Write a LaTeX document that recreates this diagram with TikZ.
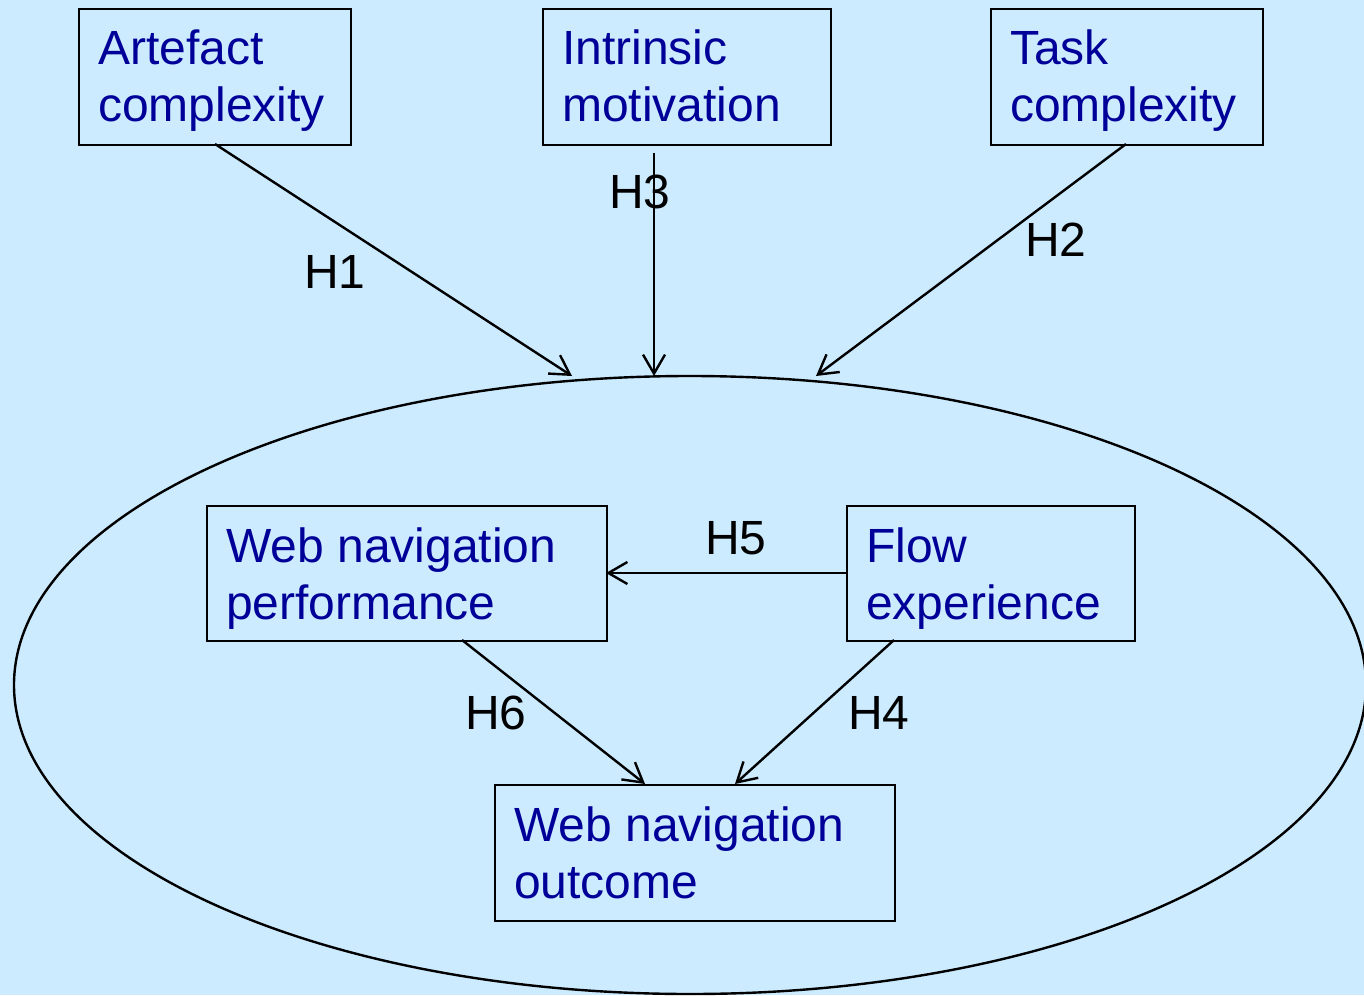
\documentclass[tikz,border=0pt]{standalone}
\usepackage{fontspec}
\setmainfont{Liberation Sans}
\usetikzlibrary{arrows.meta}
\definecolor{bgblue}{HTML}{CCEBFF}
\definecolor{txtblue}{HTML}{000099}
\tikzset{
  box/.style={draw=black, line width=2.4pt, anchor=north west, inner sep=0pt},
  boxtext/.style={anchor=base west, inner sep=0pt, align=left, text=txtblue,
    font=\fontsize{48}{57}\selectfont},
  hlabel/.style={inner sep=0pt, text=black, font=\fontsize{48}{57}\selectfont},
  link/.style={line width=2.4pt, -{Straight Barb[length=19pt,width=22pt,line width=2.4pt]}},
}
\begin{document}
\begin{tikzpicture}[x=1pt,y=-1pt]
  \fill[bgblue] (0,0) rectangle (1364,995);
  \useasboundingbox (0,0) rectangle (1364,995);
  \clip (0,0) rectangle (1364,995);

  % enclosing ellipse
  \draw[line width=2.4pt] (690,685) ellipse [x radius=676, y radius=309];

  % factor boxes (text anchored on the baseline of its second line)
  \node[box, minimum width=272, minimum height=136] (art) at (78,8) {};
  \node[boxtext] at (98,122) {Artefact\\complexity};
  \node[box, minimum width=288, minimum height=136] (intr) at (542,8) {};
  \node[boxtext] at (562,122) {Intrinsic\\motivation};
  \node[box, minimum width=272, minimum height=136] (task) at (990,8) {};
  \node[boxtext] at (1010,122) {Task\\complexity};

  \node[box, minimum width=400, minimum height=135] (perf) at (206,505) {};
  \node[boxtext] at (226,619) {Web navigation\\performance};
  \node[box, minimum width=288, minimum height=135] (flow) at (846,505) {};
  \node[boxtext] at (866,619) {Flow\\experience};
  \node[box, minimum width=400, minimum height=136] (outc) at (494,784) {};
  \node[boxtext] at (514,898) {Web navigation\\outcome};

  % arrow ends on the ellipse and start points
  \coordinate (e1) at (572,376);
  \coordinate (e3) at (654,376);
  \coordinate (e2) at (816,376);
  \coordinate (s1) at (215,144);
  \coordinate (s3) at (654,153);
  \coordinate (s2) at (1126,144);
  \coordinate (s6) at (462,640);
  \coordinate (t6) at (645,784);
  \coordinate (s4) at (894,640);
  \coordinate (t4) at (735,784);
  \coordinate (s5) at (846,573);
  \coordinate (t5) at (606,573);

  \draw[link] (s1) -- (e1);
  \draw[link] (s2) -- (e2);
  \draw[link] (s5) -- (t5);
  \draw[link] (s6) -- (t6);
  \draw[link] (s4) -- (t4);

  % hypothesis labels
  \node[hlabel] (h1) at (335,272) {H1};
  \node[hlabel] (h3) at (640,192) {H3};
  \node[hlabel] (h2) at (1056,240) {H2};
  \node[hlabel] (h5) at (736,538) {H5};
  \node[hlabel] (h6) at (496,713) {H6};
  \node[hlabel] (h4) at (879,713) {H4};
  % the H3 line runs over its label
  \draw[link] (s3) -- (e3);
\end{tikzpicture}
\end{document}
